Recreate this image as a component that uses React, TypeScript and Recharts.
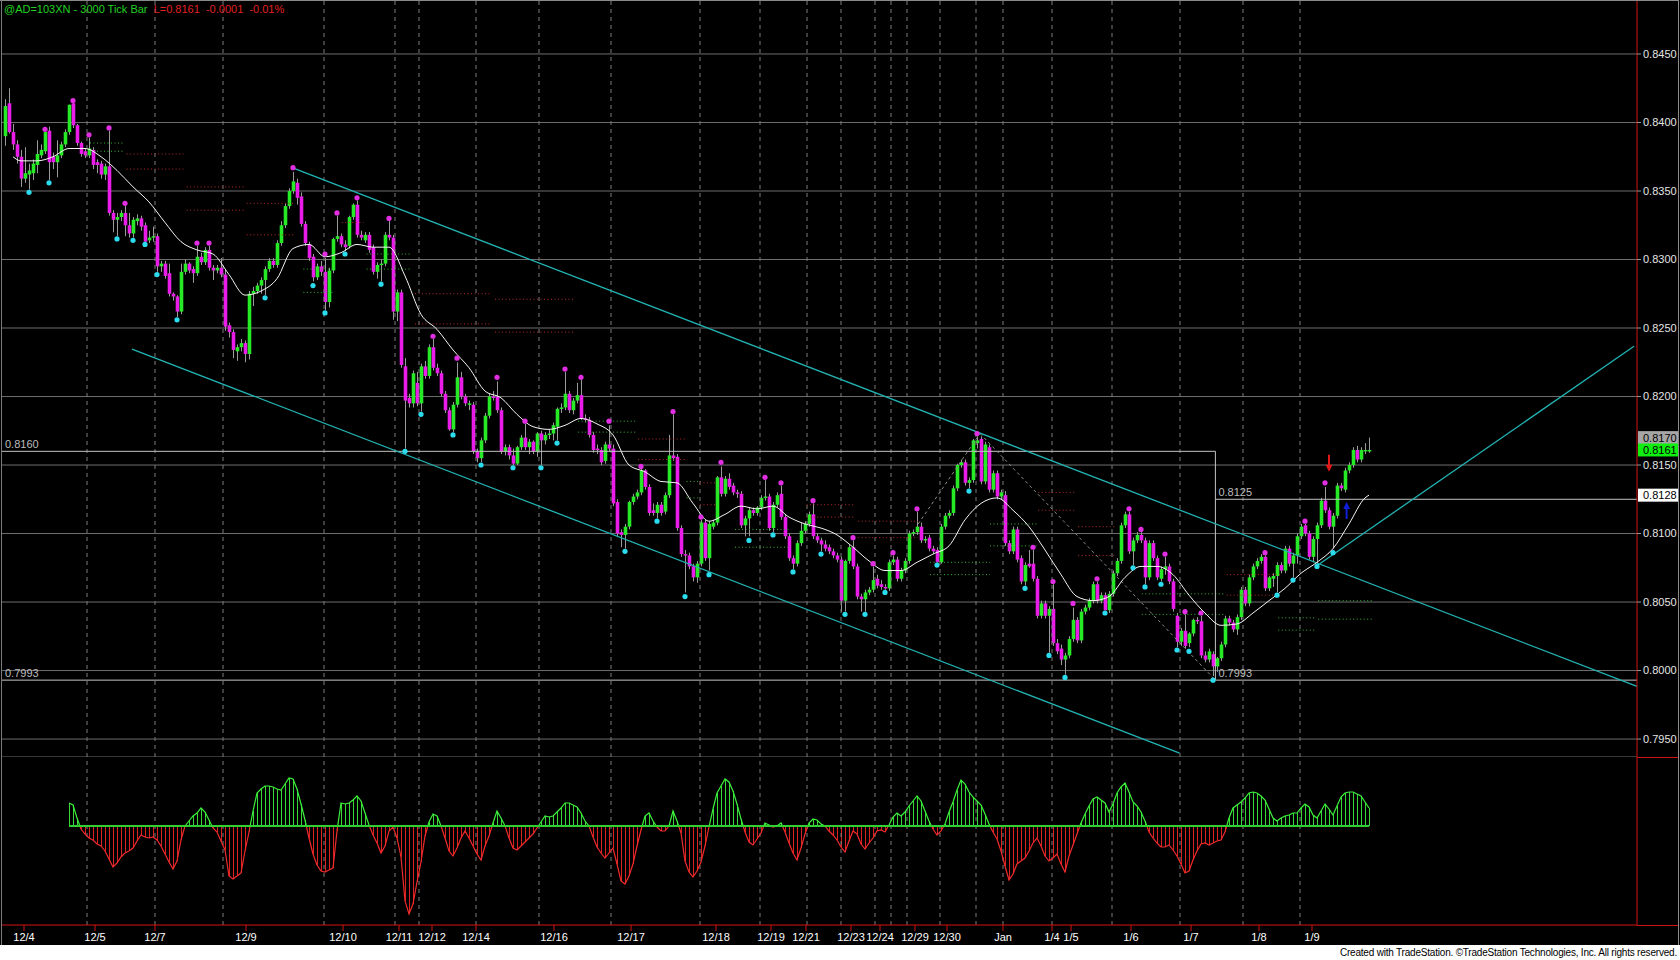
import {
  Bar,
  CartesianGrid,
  ComposedChart,
  Line,
  ReferenceDot,
  ReferenceLine,
  Scatter,
  XAxis,
  YAxis,
} from "recharts";

// every price level below is in pips above 0.7900 (261 -> 0.8161)
const BASE = 7900;

// one row per 3000-tick bar: [open, high, low, close]
const ohlc: [number, number, number, number][] = [
  [490,517,483,512],[514,525,492,493],[493,499,480,484],[484,487,470,475],[475,480,453,459],[459,482,456,463],[462,470,451,465],[463,473,458,470],[469,487,463,477],[476,484,474,480],
  [479,493,477,493],[494,497,458,471],[475,478,466,471],[471,487,460,476],[476,486,474,484],[484,495,482,493],[493,513,491,513],[514,514,496,498],[498,499,483,485],[485,486,475,477],
  [479,481,474,476],[476,489,474,481],[480,482,466,469],[471,473,463,469],[470,472,459,462],[462,470,458,468],[468,494,432,434],[434,436,420,429],[429,434,417,431],[431,436,428,434],
  [434,439,417,425],[425,434,416,419],[419,431,416,429],[428,433,425,430],[430,432,421,424],[425,427,413,413],[414,421,412,416],[416,424,413,417],[417,419,391,395],[395,399,391,397],
  [397,399,386,388],[390,397,373,375],[375,376,370,373],[373,374,358,362],[362,397,360,391],[391,400,389,397],[397,398,390,392],[393,395,383,390],[390,410,388,402],[402,405,396,398],
  [398,409,396,407],[407,410,392,394],[394,396,385,392],[392,396,390,394],[394,401,387,389],[389,393,348,351],[352,354,343,347],[347,349,328,334],[333,338,326,336],[336,342,333,339],
  [339,341,325,331],[331,377,327,375],[375,380,366,377],[377,383,375,381],[381,387,375,385],[385,395,374,393],[393,401,391,399],[399,401,394,396],[396,414,394,412],[412,428,410,425],
  [425,441,423,439],[439,452,437,450],[450,464,448,457],[456,459,440,445],[446,449,424,426],[426,428,410,412],[411,413,399,401],[402,404,384,387],[387,397,385,395],[395,399,388,391],
  [391,401,363,369],[369,394,365,392],[392,416,390,415],[415,432,413,417],[417,419,409,411],[411,414,406,409],[410,432,408,431],[431,441,429,440],[440,443,416,418],[418,421,414,416],
  [414,420,412,418],[418,420,405,407],[409,411,389,391],[391,398,386,396],[396,400,384,397],[397,420,395,418],[418,428,414,416],[416,418,356,362],[362,378,355,376],[376,378,321,323],
  [322,328,262,297],[299,302,292,295],[295,319,292,317],[310,318,293,295],[295,324,289,322],[322,326,313,315],[315,338,313,336],[336,342,319,321],[321,324,315,317],[317,319,300,302],
  [302,304,288,290],[290,292,275,276],[276,296,274,294],[294,325,292,314],[314,318,298,300],[300,302,293,295],[294,297,290,295],[294,296,258,260],[260,262,252,255],[255,270,252,268],
  [268,288,266,286],[286,302,284,300],[300,304,297,299],[300,311,288,290],[290,292,258,260],[260,265,257,263],[263,265,254,257],[257,262,250,251],[251,264,250,263],[263,272,261,270],
  [270,280,261,263],[263,269,258,267],[267,268,258,260],[260,274,256,273],[273,275,250,268],[268,274,265,272],[272,276,269,273],[273,281,268,279],[278,292,268,291],[291,295,288,292],
  [292,318,290,302],[302,304,288,290],[290,299,287,297],[297,310,295,301],[301,312,283,284],[284,287,281,283],[283,285,270,272],[272,274,259,261],[262,265,258,261],[261,263,250,252],
  [253,267,251,265],[265,279,260,262],[262,265,220,222],[223,225,198,200],[201,203,190,199],[199,207,189,205],[205,224,203,223],[223,229,221,227],[227,232,225,230],[230,247,228,246],
  [246,247,232,234],[234,236,213,215],[217,222,213,215],[215,223,211,221],[221,223,213,215],[216,230,214,228],[228,272,226,257],[257,287,253,255],[256,258,202,204],[204,206,183,185],
  [185,188,157,184],[184,186,174,176],[176,178,165,168],[168,180,164,178],[178,210,176,208],[208,210,180,182],[182,209,173,207],[205,210,203,208],[208,242,206,241],[241,249,227,229],
  [229,242,227,240],[240,244,232,234],[235,237,228,230],[230,232,226,229],[229,231,204,206],[206,213,198,211],[211,219,198,217],[217,219,213,215],[215,220,213,219],[219,228,217,226],
  [226,239,224,227],[227,229,202,204],[204,223,201,221],[221,230,219,228],[229,235,210,212],[212,214,196,198],[198,200,180,182],[182,184,174,178],[178,195,176,193],[193,208,191,202],
  [202,209,200,207],[207,216,205,214],[214,222,196,198],[198,200,193,195],[195,197,187,192],[192,195,187,189],[190,192,185,187],[187,189,182,184],[184,186,179,181],[181,183,143,151],
  [151,181,143,180],[180,192,178,190],[190,195,174,176],[176,178,152,154],[154,156,143,152],[152,159,143,157],[157,161,155,159],[159,176,157,166],[167,170,160,162],[163,166,159,161],
  [161,163,159,160],[160,181,158,179],[179,184,177,181],[181,183,165,167],[167,175,165,173],[173,182,171,180],[180,202,178,200],[200,203,198,201],[201,216,199,205],[205,208,193,195],
  [195,198,193,196],[197,199,187,189],[189,191,185,187],[188,190,179,179],[179,207,178,205],[205,215,203,213],[213,217,211,215],[215,235,213,233],[233,251,231,250],[250,254,248,252],
  [252,254,235,237],[237,241,233,239],[239,269,237,268],[266,271,262,268],[269,271,236,238],[238,267,236,265],[263,265,230,232],[232,246,230,244],[244,246,225,227],[227,232,225,230],
  [228,231,191,193],[193,195,185,187],[187,205,185,203],[203,205,179,181],[182,184,163,165],[165,179,162,177],[178,188,175,176],[178,188,165,167],[167,169,138,140],[140,151,138,149],
  [149,151,138,140],[140,147,113,145],[145,163,118,120],[120,123,112,114],[116,119,104,108],[108,113,97,111],[111,125,109,123],[123,146,121,137],[137,139,120,122],[122,145,120,143],
  [143,148,141,146],[146,153,144,151],[151,165,149,163],[163,165,149,151],[151,157,149,155],[155,157,144,144],[144,158,142,156],[156,173,154,171],[171,182,169,180],[180,208,178,206],
  [206,216,204,214],[214,216,185,187],[187,197,177,195],[195,201,193,199],[199,201,193,195],[195,197,163,168],[168,195,166,193],[193,195,180,182],[182,184,166,168],[167,176,165,174],
  [174,183,170,176],[176,178,163,165],[165,167,143,145],[140,142,117,121],[121,131,118,129],[129,141,116,118],[120,128,117,127],[127,138,125,137],[137,139,134,136],[136,140,109,111],
  [111,114,106,108],[108,116,106,114],[112,114,96,103],[103,110,99,109],[109,121,107,119],[119,140,117,138],[138,140,133,135],[135,137,128,130],[130,141,126,139],[139,161,137,159],
  [159,161,147,149],[149,170,147,168],[168,178,166,176],[176,182,174,180],[180,185,178,183],[183,184,158,160],[160,169,158,168],[167,171,161,169],[169,179,157,177],[177,179,171,173],
  [173,191,171,189],[189,191,176,178],[178,186,168,184],[184,200,178,198],[198,207,196,205],[206,207,198,200],[200,202,181,183],[183,198,179,196],[196,208,178,206],[206,226,204,224],
  [224,234,215,217],[217,219,203,205],[205,215,189,213],[213,237,211,235],[235,237,231,233],[232,248,230,246],[246,252,244,250],[250,263,248,261],[261,264,252,254],[254,263,252,261],
  [260,266,258,261],[261,270,259,261],
];

// white moving average: [bar, level]
const maPoints: [number, number][] = [
  [2,475],[4,472],[8,472],[12,475],[16,481],[20,481],[24,475],[28,465],[32,453],[36,442],[40,427],[44,413],
  [48,407],[52,404],[56,389],[60,374],[64,377],[68,386],[72,408],[76,411],[80,402],[84,405],[88,411],[92,409],
  [96,409],[100,388],[104,360],[108,349],[112,334],[116,321],[120,304],[124,299],[128,287],[132,278],[136,276],
  [140,279],[144,284],[148,280],[152,272],[156,250],[160,245],[164,238],[168,237],[172,222],[176,209],[180,214],
  [184,220],[188,218],[192,220],[196,212],[200,207],[204,204],[208,199],[212,190],[216,180],[220,173],[224,173],
  [228,179],[232,185],[236,191],[240,210],[244,222],[248,226],[252,217],[256,205],[260,188],[264,170],[268,154],
  [272,151],[276,154],[280,168],[284,176],[288,176],[292,170],[296,155],[300,142],[304,133],[308,134],[312,142],
  [316,151],[320,160],[324,171],[328,179],[332,189],[336,207],[340,226],[341,228],
];

// lower-pane oscillator, one value per bar from bar 16 on
const oscStart = 16;
const oscValues = [
  23,21,8,-3,-8,-12,-14,-18,-20,-25,
  -33,-41,-37,-31,-27,-25,-22,-15,-9,-11,
  -12,-11,-14,-20,-28,-36,-43,-35,-14,0,
  5,10,13,18,14,6,-2,-6,-15,-24,
  -50,-53,-50,-47,-25,-6,15,33,37,40,
  40,39,37,36,42,48,47,37,22,6,
  -12,-28,-39,-45,-46,-44,-42,-5,23,22,
  23,26,30,25,13,1,-9,-17,-27,-20,
  -5,-1,-12,-31,-75,-88,-78,-56,-36,-10,
  4,12,10,0,-12,-25,-30,-22,-12,-5,
  -12,-20,-28,-34,-20,-10,3,15,8,0,
  -12,-22,-24,-20,-16,-12,-8,-2,4,10,
  9,10,14,18,23,23,21,19,13,5,
  0,-11,-21,-27,-32,-27,-22,-38,-55,-58,
  -50,-38,-20,-4,10,13,5,-1,-5,-5,
  0,15,5,-7,-35,-46,-51,-45,-36,-20,
  -1,17,33,40,47,44,35,22,7,-6,
  -16,-19,-13,-7,3,1,-1,0,3,-6,
  -17,-27,-34,-22,-8,3,7,6,2,0,
  -5,-9,-14,-21,-26,-15,-5,-8,-18,-23,
  -17,-12,-5,-4,-6,1,9,13,10,14,
  20,25,30,25,15,5,-3,-9,-5,2,
  14,24,36,46,42,34,29,25,21,12,
  2,-6,-13,-25,-40,-54,-48,-38,-35,-32,
  -25,-17,-12,-20,-30,-35,-32,-28,-38,-46,
  -30,-19,-8,3,12,20,27,29,26,23,
  14,22,33,39,43,34,24,20,14,5,
  -6,-12,-17,-21,-21,-19,-24,-30,-38,-47,
  -45,-34,-25,-18,-17,-19,-17,-15,-14,-6,
  8,18,21,24,28,33,34,33,30,26,
  17,8,5,8,10,11,13,13,18,22,
  19,11,8,15,22,17,11,20,29,33,
  34,34,32,30,24,18,
];

// magenta swing-high and cyan swing-low markers: [bar, level]
const swingHighs: [number, number][] = [
  [10,495],[17,516],[21,491],[26,496],[30,441],[48,412],[51,412],[72,467],[80,404],[83,434],[88,445],
  [96,430],[107,344],[113,328],[123,314],[130,282],[140,320],[144,314],[151,282],[159,249],[167,289],
  [174,212],[179,252],[190,241],[194,237],[202,224],[212,197],[217,178],[222,186],[228,218],[243,273],
  [257,190],[262,165],[267,149],[273,167],[281,218],[284,203],[290,185],[295,143],[299,142],[315,186],
  [325,209],[330,237],
];
const swingLows: [number, number][] = [
  [6,449],[11,456],[28,415],[32,414],[35,411],[38,389],[43,356],[65,372],[77,381],[80,361],[85,404],
  [94,382],[100,260],[104,287],[112,272],[119,250],[127,248],[134,248],[138,266],[155,187],[163,209],
  [170,154],[176,170],[186,195],[192,199],[197,172],[204,185],[210,141],[215,141],[220,157],[233,177],
  [241,231],[255,160],[261,111],[265,95],[275,142],[282,175],[285,161],[289,163],[293,115],[296,114],
  [302,93],[318,155],[322,166],[328,176],[332,186],
];

// dotted pivot levels: [fromBar, toBar, level]
const redPivots: [number, number, number][] = [
  [30.4,44.6,477],[30.4,44.6,466],[45.4,60,453],[45.4,60,436],[60.4,72.5,441],[60.4,72.5,418],
  [84.2,89.6,427],[102.5,121.7,375],[102.5,121.7,353],[122.5,142.5,371],[122.5,142.5,347],
  [158.3,170,269],[158.3,170,254],[173.75,177.9,237],[173.75,177.9,221],[200.4,212.5,221],
  [200.4,212.5,212],[213.3,228.3,209],[213.3,228.3,197],[258.3,267.5,230],[258.3,267.5,217],
  [268.3,277.5,205],[268.3,277.5,184],[305.4,318.75,170],[305.4,318.75,155],
];
const greenPivots: [number, number, number][] = [
  [21.25,30,485],[21.25,30,479],[74.6,82.5,393],[74.6,82.5,376],[90.4,101.7,404],[90.4,101.7,393],
  [143.3,157.9,282],[143.3,157.9,274],[170.4,173.75,238],[170.4,173.75,226],[182.5,195.8,203],
  [182.5,195.8,190],[231.25,246.25,179],[231.25,246.25,170],[246.25,257.9,207],[246.25,257.9,191],
  [284.2,304.6,156],[284.2,304.6,141],[318.3,327.9,138.5],[318.3,327.9,129.5],[328.3,342,151],
  [328.3,342,137.5],
];

// drawn trend lines: [bar, level] end points
const upperChannel: [number, number][] = [[71.75, 467], [408, 88.4]];
const lowerChannel: [number, number][] = [[31.75, 334.6], [293.65, 39.7]];
const risingTrend: [number, number][] = [[327.6, 175.8], [407.25, 336.7]];
const swingZigzag: [number, number][] = [[228.3, 207], [243.75, 273], [302.6, 93]];

// range box levels and the bar where the box ends
const rangeTop = 260; // 0.8160
const rangeBottom = 93; // 0.7993
const retraceLevel = 225; // 0.8125
const rangeEndBar = 302.6;

// signal arrows: [bar, level of tip]
const sellArrows: [number, number][] = [[331, 245]];
const buyArrows: [number, number][] = [[335.4, 223]];

// values tagged on the price scale
const lastHigh = 270;
const lastClose = 261;
const lastAverage = 228;

const sessionBreaks = [
  20.5, 37.5, 54.5, 79.75, 97.5, 103.5, 117.75, 133.5, 151.5, 173.75, 188.75, 200.5,
  209, 217.5, 221.5, 225.5, 233.75, 242.75, 249.5, 261.75, 276.75, 293.75, 309.5, 323.75,
];
const dateTickBars = [
  4.75, 22.5, 37.5, 60.25, 84.5, 98.5, 106.75, 117.75, 137.25, 156.5, 177.75, 191.5,
  200.25, 211.5, 218.75, 227.5, 235.5, 249.5, 261.75, 266.5, 281.5, 296.5, 313.5, 326.75,
];
const dateLabels = [
  "12/4", "12/5", "12/7", "12/9", "12/10", "12/11", "12/12", "12/14", "12/16", "12/17", "12/18", "12/19",
  "12/21", "12/23", "12/24", "12/29", "12/30", "Jan", "1/4", "1/5", "1/6", "1/7", "1/8", "1/9",
];
const priceTicks = [7950, 8000, 8050, 8100, 8150, 8200, 8250, 8300, 8350, 8400, 8450];

const FONT = "Arial, 'Liberation Sans', sans-serif";
const UP = "#26ea26";
const DOWN = "#ea1cea";
const WICK = "#9a9a9a";
const TEAL = "#22b3b3";
const RED = "#d01414";
const LEVEL = "#c4c4c4";
const X_DOMAIN: [number, number] = [-0.75, 408];
const PRICE_DOMAIN: [number, number] = [7936.9, 8489.4];
const OSC_DOMAIN: [number, number] = [-99, 69];
const MAIN_H = 757;
const OSC_H = 188;
const OSC_PLOT_H = 168;
const BODY_W = 3.6;

const maAt = new Map(maPoints.map(([b, v]) => [b, BASE + v]));
const candleRows = ohlc.map(([o, h, l, c], i) => ({
  i,
  o: BASE + o,
  h: BASE + h,
  l: BASE + l,
  c: BASE + c,
  range: [BASE + l, BASE + h],
  ma: maAt.get(i) ?? null,
}));
const oscRows = oscValues.map((v, k) => ({ i: oscStart + k, osc: v }));
const highDots = swingHighs.map(([i, v]) => ({ i, y: BASE + v }));
const lowDots = swingLows.map(([i, v]) => ({ i, y: BASE + v }));
const sellRows = sellArrows.map(([i, v]) => ({ i, y: BASE + v }));
const buyRows = buyArrows.map(([i, v]) => ({ i, y: BASE + v }));

const fmt = (pips: number) => (pips / 10000).toFixed(4);
const pt = ([b, v]: [number, number]) => ({ x: b, y: BASE + v });

const Candle = (props: any) => {
  const { x, y, width, height, payload } = props;
  if (!payload || height == null) return null;
  const { o, h, l, c } = payload;
  const span = h - l || 1;
  const py = (v: number) => y + ((h - v) / span) * height;
  const mid = Math.round(x + width / 2) + 0.5;
  const top = py(Math.max(o, c));
  const bottom = py(Math.min(o, c));
  return (
    <g>
      <line x1={mid} x2={mid} y1={y} y2={y + height} stroke={WICK} strokeWidth={1} />
      <rect
        x={mid - BODY_W / 2}
        y={top}
        width={BODY_W}
        height={Math.max(1.5, bottom - top)}
        fill={c >= o ? UP : DOWN}
      />
    </g>
  );
};

const OscStick = (props: any) => {
  const { x, y, width, height, payload } = props;
  if (!payload || height == null) return null;
  const cx = Math.round(x + width / 2) + 0.5;
  return (
    <line
      x1={cx}
      x2={cx}
      y1={Math.min(y, y + height)}
      y2={Math.max(y, y + height)}
      stroke={payload.osc >= 0 ? "#36d836" : "#d82222"}
      strokeWidth={1}
    />
  );
};

const SellArrow = ({ cx, cy }: any) => (
  <g>
    <line x1={cx} x2={cx} y1={cy - 17} y2={cy - 6} stroke="#e01818" strokeWidth={2} />
    <polygon points={`${cx - 3.5},${cy - 7} ${cx + 3.5},${cy - 7} ${cx},${cy}`} fill="#e01818" />
  </g>
);

const BuyArrow = ({ cx, cy }: any) => (
  <g>
    <line x1={cx} x2={cx} y1={cy + 6} y2={cy + 17} stroke="#1020d8" strokeWidth={2} />
    <polygon points={`${cx - 3.5},${cy + 7} ${cx + 3.5},${cy + 7} ${cx},${cy}`} fill="#1020d8" />
  </g>
);

const AxisTag = ({ cx, cy, fill, text }: any) => (
  <g>
    <rect x={cx + 1} y={cy - 6.5} width={40} height={13} fill={fill} />
    <text x={cx + 6} y={cy + 4} fontSize={11} fontFamily={FONT} fill="#000">
      {text}
    </text>
  </g>
);

const levelLabel = (value: string) => ({
  value,
  position: "insideBottomLeft" as const,
  offset: 3,
  fill: "#bdbdbd",
  fontSize: 11,
  fontFamily: FONT,
});

const App = () => {
  const zeroFrac = OSC_DOMAIN[1] / (OSC_DOMAIN[1] - OSC_DOMAIN[0]);
  return (
    <div style={{ position: "relative", width: 1680, height: 960, background: "#fff", overflow: "hidden" }}>
      <style>{"body{margin:0;}"}</style>
      <div style={{ position: "absolute", left: 0, top: 0, width: 1680, height: 945, background: "#000" }} />

      <div style={{ position: "absolute", left: 0, top: 0 }}>
        <ComposedChart
          width={1680}
          height={MAIN_H}
          data={candleRows}
          margin={{ top: 0, right: 2, bottom: 0, left: 2 }}
        >
          <CartesianGrid vertical={false} stroke="#6e6e6e" />
          <XAxis type="number" dataKey="i" domain={X_DOMAIN} hide allowDataOverflow />
          <YAxis
            orientation="right"
            domain={PRICE_DOMAIN}
            ticks={priceTicks}
            tickFormatter={fmt}
            width={41}
            axisLine={{ stroke: RED }}
            tickLine={{ stroke: "#9a9a9a" }}
            tickSize={4}
            tick={{ fill: "#e4e4e4", fontSize: 11, fontFamily: FONT }}
            allowDataOverflow
          />
          {sessionBreaks.map((b) => (
            <ReferenceLine key={`s${b}`} x={b} stroke="#7c7c7c" strokeDasharray="4 4" />
          ))}
          {redPivots.map(([a, b, v], k) => (
            <ReferenceLine
              key={`rp${k}`}
              segment={[{ x: a, y: BASE + v }, { x: b, y: BASE + v }]}
              stroke="#b82a2a"
              strokeDasharray="1 2.5"
              ifOverflow="visible"
            />
          ))}
          {greenPivots.map(([a, b, v], k) => (
            <ReferenceLine
              key={`gp${k}`}
              segment={[{ x: a, y: BASE + v }, { x: b, y: BASE + v }]}
              stroke="#38b838"
              strokeDasharray="1 2.5"
              ifOverflow="visible"
            />
          ))}
          <ReferenceLine
            segment={[{ x: X_DOMAIN[0], y: BASE + rangeTop }, { x: rangeEndBar, y: BASE + rangeTop }]}
            stroke={LEVEL}
            ifOverflow="visible"
            label={levelLabel(fmt(BASE + rangeTop))}
          />
          <ReferenceLine
            segment={[{ x: rangeEndBar, y: BASE + rangeTop }, { x: rangeEndBar, y: BASE + rangeBottom }]}
            stroke={LEVEL}
            ifOverflow="visible"
          />
          <ReferenceLine
            segment={[{ x: X_DOMAIN[0], y: BASE + rangeBottom }, { x: rangeEndBar, y: BASE + rangeBottom }]}
            stroke={LEVEL}
            ifOverflow="visible"
            label={levelLabel(fmt(BASE + rangeBottom))}
          />
          <ReferenceLine
            segment={[{ x: rangeEndBar, y: BASE + rangeBottom }, { x: X_DOMAIN[1], y: BASE + rangeBottom }]}
            stroke={LEVEL}
            ifOverflow="visible"
            label={levelLabel(fmt(BASE + rangeBottom))}
          />
          <ReferenceLine
            segment={[{ x: rangeEndBar, y: BASE + retraceLevel }, { x: X_DOMAIN[1], y: BASE + retraceLevel }]}
            stroke={LEVEL}
            ifOverflow="visible"
            label={levelLabel(fmt(BASE + retraceLevel))}
          />
          {swingZigzag.slice(1).map((p, k) => (
            <ReferenceLine
              key={`z${k}`}
              segment={[pt(swingZigzag[k]), pt(p)]}
              stroke="#8a8a8a"
              strokeDasharray="3 3"
              ifOverflow="visible"
            />
          ))}
          {[upperChannel, lowerChannel, risingTrend].map((seg, k) => (
            <ReferenceLine
              key={`t${k}`}
              segment={[pt(seg[0]), pt(seg[1])]}
              stroke={TEAL}
              strokeWidth={1.3}
              ifOverflow="visible"
            />
          ))}
          <Bar dataKey="range" barSize={3} isAnimationActive={false} shape={(p: any) => <Candle {...p} />} />
          <Line
            dataKey="ma"
            type="monotone"
            stroke="#f4f4f4"
            strokeWidth={1}
            dot={false}
            connectNulls
            isAnimationActive={false}
          />
          <Scatter
            data={highDots}
            dataKey="y"
            isAnimationActive={false}
            shape={(p: any) => <circle cx={p.cx} cy={p.cy} r={2.6} fill="#e22ee2" />}
          />
          <Scatter
            data={lowDots}
            dataKey="y"
            isAnimationActive={false}
            shape={(p: any) => <circle cx={p.cx} cy={p.cy} r={2.6} fill="#2adcee" />}
          />
          <Scatter data={sellRows} dataKey="y" isAnimationActive={false} shape={(p: any) => <SellArrow {...p} />} />
          <Scatter data={buyRows} dataKey="y" isAnimationActive={false} shape={(p: any) => <BuyArrow {...p} />} />
          <ReferenceDot
            x={X_DOMAIN[1]}
            y={BASE + lastHigh}
            ifOverflow="visible"
            shape={(p: any) => <AxisTag {...p} fill="#a6a6a6" text={fmt(BASE + lastHigh)} />}
          />
          <ReferenceDot
            x={X_DOMAIN[1]}
            y={BASE + lastClose}
            ifOverflow="visible"
            shape={(p: any) => <AxisTag {...p} fill="#10f010" text={fmt(BASE + lastClose)} />}
          />
          <ReferenceDot
            x={X_DOMAIN[1]}
            y={BASE + lastAverage}
            ifOverflow="visible"
            shape={(p: any) => <AxisTag {...p} fill="#ffffff" text={fmt(BASE + lastAverage)} />}
          />
        </ComposedChart>
      </div>

      <div style={{ position: "absolute", left: 0, top: MAIN_H }}>
        <ComposedChart
          width={1680}
          height={OSC_H}
          data={oscRows}
          margin={{ top: 0, right: 2, bottom: 0, left: 2 }}
        >
          <defs>
            <linearGradient id="oscStroke" x1="0" y1="0" x2="0" y2={OSC_PLOT_H} gradientUnits="userSpaceOnUse">
              <stop offset={0} stopColor="#3cf03c" />
              <stop offset={zeroFrac} stopColor="#3cf03c" />
              <stop offset={zeroFrac} stopColor="#f02a2a" />
              <stop offset={1} stopColor="#f02a2a" />
            </linearGradient>
          </defs>
          <XAxis
            type="number"
            dataKey="i"
            domain={X_DOMAIN}
            ticks={dateTickBars}
            interval={0}
            tickFormatter={(v: number) => dateLabels[dateTickBars.indexOf(v)] ?? ""}
            axisLine={{ stroke: RED }}
            tickLine={{ stroke: RED }}
            tickSize={6}
            tick={{ fill: "#ffffff", fontSize: 11, fontFamily: FONT }}
            height={OSC_H - OSC_PLOT_H}
            allowDataOverflow
          />
          <YAxis
            orientation="right"
            domain={OSC_DOMAIN}
            width={41}
            tick={false}
            tickLine={false}
            axisLine={{ stroke: RED }}
            allowDataOverflow
          />
          {sessionBreaks.map((b) => (
            <ReferenceLine key={`os${b}`} x={b} stroke="#7c7c7c" strokeDasharray="4 4" />
          ))}
          <Bar dataKey="osc" barSize={1} isAnimationActive={false} shape={(p: any) => <OscStick {...p} />} />
          <Line
            dataKey="osc"
            type="linear"
            stroke="url(#oscStroke)"
            strokeWidth={1.2}
            dot={false}
            isAnimationActive={false}
          />
          <ReferenceLine
            segment={[{ x: oscStart, y: 0 }, { x: oscStart + oscValues.length - 1, y: 0 }]}
            stroke="#30d030"
            strokeWidth={2}
            ifOverflow="visible"
          />
        </ComposedChart>
      </div>

      {/* frame lines of the chart window */}
      <div style={{ position: "absolute", left: 0, top: 0, width: 1679, height: 1, background: "#8a8a8a" }} />
      <div style={{ position: "absolute", left: 1, top: 0, width: 1, height: 945, background: "#7a7a7a" }} />
      <div style={{ position: "absolute", left: 1678, top: 0, width: 1, height: 945, background: "#8a8a8a" }} />
      <div style={{ position: "absolute", left: 1637, top: MAIN_H, width: 41, height: 1, background: RED }} />
      <div style={{ position: "absolute", left: 1637, top: MAIN_H + OSC_PLOT_H, width: 41, height: 1, background: RED }} />

      <div
        style={{
          position: "absolute",
          left: 4,
          top: 3,
          fontFamily: FONT,
          fontSize: 11,
          whiteSpace: "pre",
          lineHeight: "13px",
        }}
      >
        <span style={{ color: "#22d022" }}>@AD=103XN - 3000 Tick Bar</span>
        <span style={{ color: "#e02020" }}>{"  L=0.8161  -0.0001  -0.01%"}</span>
      </div>

      <div
        style={{
          position: "absolute",
          right: 3,
          top: 946,
          fontFamily: FONT,
          fontSize: 10,
          lineHeight: "13px",
          color: "#000",
          letterSpacing: -0.2,
        }}
      >
        Created with TradeStation. ©TradeStation Technologies, Inc. All rights reserved.
      </div>
    </div>
  );
};

export default App;
